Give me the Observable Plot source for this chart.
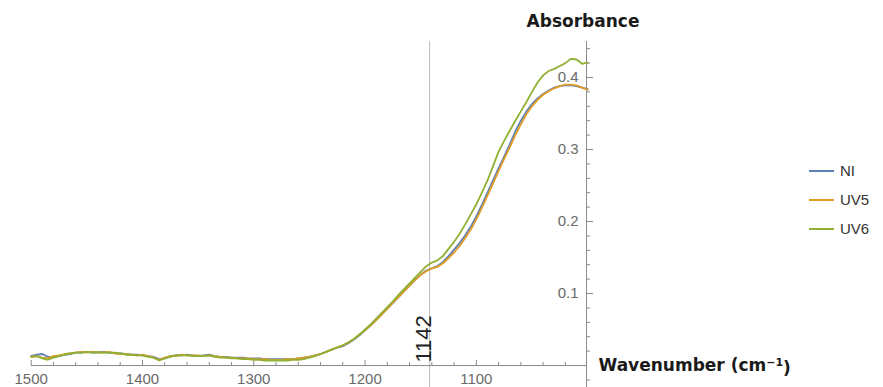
<!DOCTYPE html>
<html>
<head>
<meta charset="utf-8">
<script src="https://cdn.jsdelivr.net/npm/d3@7"></script>
<script src="https://cdn.jsdelivr.net/npm/@observablehq/plot@0.6"></script>
<style>
  body { margin: 0; background: #fff; }
  #chart { position: relative; width: 883px; height: 387px; overflow: hidden; font-family: "Liberation Sans", Arial, sans-serif; }
  #legend { position: absolute; left: 809px; top: 156px; }
  .item { display: flex; align-items: center; height: 29px; font-size: 15px; color: #333; }
  .item svg { margin-right: 6px; }
</style>
</head>
<body>
<div id="chart"><div id="legend"></div></div>
<script>
// Wavenumber grid (cm^-1), high to low
const wavenumbers = [
  1500,1495,1490,1485,1480,1475,1470,1465,1460,1455,
  1450,1445,1440,1435,1430,1425,1420,1415,1410,1405,
  1400,1395,1390,1385,1380,1375,1370,1365,1360,1355,
  1350,1345,1340,1335,1330,1325,1320,1315,1310,1305,
  1300,1295,1290,1285,1280,1275,1270,1265,1260,1255,
  1250,1245,1240,1235,1230,1225,1220,1215,1210,1205,
  1200,1195,1190,1185,1180,1175,1170,1165,1160,1155,
  1150,1145,1140,1135,1130,1125,1120,1115,1110,1105,
  1100,1095,1090,1085,1080,1075,1070,1065,1060,1055,
  1050,1045,1040,1035,1030,1025,1020,1015,1010,1005,
  1000
];

const seriesNames = ["NI", "UV5", "UV6"];
const seriesColors = ["#5E81B5", "#E19C24", "#8FB032"];

// Absorbance spectra
const absNI = [
  .013,.015,.016,.012,.012,.013,.015,.016,.018,.018,
  .019,.018,.018,.019,.018,.017,.017,.016,.015,.015,
  .014,.013,.012,.009,.010,.013,.014,.014,.015,.014,
  .013,.014,.015,.013,.012,.012,.011,.011,.011,.010,
  .010,.010,.009,.009,.009,.009,.009,.009,.010,.011,
  .012,.014,.016,.019,.022,.025,.027,.031,.036,.042,
  .049,.056,.063,.071,.079,.087,.095,.103,.111,.119,
  .126,.132,.135,.138,.144,.152,.161,.170,.181,.193,
  .207,.223,.240,.257,.274,.290,.307,.325,.340,.353,
  .363,.371,.377,.382,.386,.388,.389,.389,.388,.386,
  .384
];
const absUV5 = [
  .012,.013,.011,.010,.013,.014,.016,.017,.018,.019,
  .018,.019,.018,.018,.019,.017,.016,.016,.015,.014,
  .015,.013,.011,.008,.011,.013,.013,.015,.014,.014,
  .014,.013,.014,.013,.012,.011,.011,.010,.010,.010,
  .009,.009,.009,.008,.008,.008,.009,.009,.010,.011,
  .012,.014,.016,.019,.022,.025,.028,.032,.037,.043,
  .049,.056,.063,.071,.079,.087,.095,.103,.111,.119,
  .126,.131,.135,.137,.142,.149,.157,.166,.177,.189,
  .203,.219,.236,.253,.270,.287,.303,.320,.335,.349,
  .360,.369,.376,.381,.385,.388,.390,.390,.389,.386,
  .383
];
const absUV6 = [
  .012,.013,.010,.008,.011,.013,.015,.017,.018,.018,
  .019,.018,.019,.018,.018,.018,.017,.015,.015,.014,
  .014,.012,.011,.007,.010,.012,.014,.014,.014,.013,
  .013,.013,.014,.012,.011,.011,.010,.010,.009,.009,
  .008,.008,.007,.007,.007,.007,.007,.008,.008,.009,
  .011,.013,.016,.019,.022,.025,.028,.032,.037,.043,
  .050,.057,.065,.073,.081,.089,.098,.106,.114,.122,
  .130,.138,.143,.146,.152,.162,.172,.183,.196,.210,
  .224,.240,.257,.277,.297,.312,.326,.340,.353,.366,
  .380,.393,.403,.409,.412,.416,.420,.426,.425,.419,
  .421
];

// Axis ticks
const xMajorTicks = [1500, 1400, 1300, 1200, 1100];
const xMinorTicks = [1480,1460,1440,1420,1380,1360,1340,1320,1280,1260,1240,1220,1180,1160,1140,1120,1080,1060,1040,1020];
const yMajorTicks = [0.1, 0.2, 0.3, 0.4];
const yMinorTicks = [-0.02,0.02,0.04,0.06,0.08,0.12,0.14,0.16,0.18,0.22,0.24,0.26,0.28,0.32,0.34,0.36,0.38,0.42,0.44];

const markedWavenumber = 1142;
const yAxisAt = 1001;
const xTitle = "Wavenumber (cm";
const yTitle = "Absorbance";

const spectra = [absNI, absUV5, absUV6];
const rows = seriesNames.flatMap((name, k) =>
  spectra[k].map((a, i) => ({wn: wavenumbers[i], a, series: name}))
);

const axisColor = "#8a8a8a";
const labelColor = "#6a6a6a";
const titleFont = '"DejaVu Sans", Verdana, sans-serif';

const plot = Plot.plot({
  width: 883,
  height: 387,
  marginLeft: 30.7,
  marginRight: 297,
  marginTop: 41,
  marginBottom: 0,
  x: {domain: [1500, yAxisAt], axis: null},
  y: {domain: [-0.0305, 0.45], axis: null},
  color: {domain: seriesNames, range: seriesColors},
  style: {fontFamily: '"Liberation Sans", Arial, sans-serif', background: "white", overflow: "visible"},
  marks: [
    Plot.ruleX([markedWavenumber], {stroke: "#bdbdbd", strokeWidth: 1}),
    Plot.ruleY([0], {x1: 1500, x2: 1000, stroke: axisColor}),
    Plot.ruleX([yAxisAt], {stroke: axisColor}),
    Plot.ruleX(xMajorTicks, {y1: 0, y2: 0, insetTop: -5, stroke: axisColor}),
    Plot.ruleX(xMinorTicks, {y1: 0, y2: 0, insetTop: -3, stroke: axisColor}),
    Plot.ruleY(yMajorTicks, {x1: yAxisAt, x2: yAxisAt, insetRight: -7, stroke: axisColor}),
    Plot.ruleY(yMinorTicks, {x1: yAxisAt, x2: yAxisAt, insetRight: -4, stroke: axisColor}),
    Plot.text(xMajorTicks, {x: d => d, y: 0, text: d => String(d), lineAnchor: "top", dy: 8, fontSize: 15, fill: labelColor}),
    Plot.text(yMajorTicks, {x: yAxisAt, y: d => d, text: d => d.toFixed(1), textAnchor: "end", dx: -8, fontSize: 15, fill: labelColor}),
    Plot.line(rows, {x: "wn", y: "a", stroke: "series", z: "series", strokeWidth: 1.8}),
    Plot.text([markedWavenumber], {x: d => d, y: 0, text: d => String(d), rotate: -90, textAnchor: "start", lineAnchor: "bottom", dy: -3, dx: 1, fontSize: 22, fill: "#222"}),
    Plot.text([yTitle], {x: yAxisAt, y: 0.45, text: d => d, dy: -19.5, dx: -3.5, fontFamily: titleFont, fontWeight: "bold", fontSize: 17, fill: "#1a1a1a"}),
    Plot.text([xTitle], {x: yAxisAt, y: 0, text: d => d, textAnchor: "start", dx: 12, fontFamily: titleFont, fontWeight: "bold", fontSize: 17, fill: "#1a1a1a"})
  ]
});

// superscript exponent on the wavenumber unit
d3.select(plot).selectAll("text").filter(function() { return this.textContent === xTitle; })
  .each(function() {
    const t = d3.select(this);
    t.append("tspan").attr("dy", "-0.45em").attr("font-size", 11).text("\u22121");
    t.append("tspan").attr("dy", "0.45em").text(")");
  });

const chart = document.getElementById("chart");
chart.insertBefore(plot, chart.firstChild);

// legend
const legend = d3.select("#legend");
seriesNames.forEach((name, i) => {
  const item = legend.append("div").attr("class", "item");
  const s = item.append("svg").attr("width", 25).attr("height", 4);
  s.append("line").attr("x1", 0).attr("x2", 25).attr("y1", 2).attr("y2", 2)
    .attr("stroke", seriesColors[i]).attr("stroke-width", 2);
  item.append("span").text(name);
});
</script>
</body>
</html>
